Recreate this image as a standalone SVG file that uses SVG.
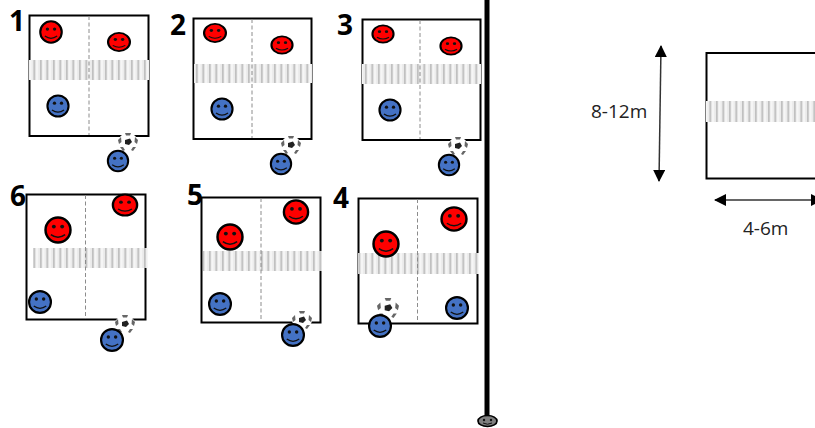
<svg xmlns="http://www.w3.org/2000/svg" width="815" height="428" viewBox="0 0 815 428">
<style>
.box{fill:#fff;stroke:#000;stroke-width:2}
.mid{stroke:#8c8c8c;stroke-width:1;stroke-dasharray:4 2.5;fill:none}
.net{fill:url(#stripes);filter:url(#soft)}
.num{font:bold 28px "Open Sans","Liberation Sans",sans-serif;fill:#000}
.lab{font:19px "Open Sans","Liberation Sans",sans-serif;fill:#222}
.dim{stroke:#333;stroke-width:1.5;fill:none;marker-start:url(#arr);marker-end:url(#arr)}
</style>
<defs>
<filter id="soft" x="-5%" y="-20%" width="110%" height="140%"><feGaussianBlur stdDeviation="0.7"/></filter>
<pattern id="stripes" width="6.5" height="20" patternUnits="userSpaceOnUse">
<rect width="6.5" height="20" fill="#ececec"/>
<rect x="1" width="1.6" height="20" fill="#bcbcbc"/>
<rect x="4" width="1.2" height="20" fill="#fcfcfc"/>
</pattern>
<marker id="arr" viewBox="0 0 12 12" refX="11" refY="6" markerUnits="userSpaceOnUse" markerWidth="12" markerHeight="12" orient="auto-start-reverse">
<path d="M0 0L12 6L0 12z" fill="#000"/>
</marker>
<g id="smile">
<circle cx="-3.200" cy="-2.600" r="1.500" fill="#111"/>
<circle cx="3.200" cy="-2.600" r="1.500" fill="#111"/>
<path d="M-5.500 3.600Q0 7.600 5.500 3.600" fill="none" stroke="#111" stroke-width="1.100"/>
</g>
<g id="red"><circle r="9.600" fill="#f00" stroke="#000" stroke-width="1.900"/><use href="#smile"/></g>
<g id="blue"><circle r="9.600" fill="#4472c4" stroke="#000" stroke-width="1.900"/><use href="#smile"/></g>
<g id="ball" filter="url(#soft)">
<ellipse rx="10" ry="9" fill="#fff"/>
<path d="M-3-2L2-3.500L4 0L1 3L-3 2z" fill="#222"/>
<g fill="#666"><path d="M-3-9L3-9L2-6.500L-2-6.500z"/><path d="M7-5L10-2L9 2L6.500 0z"/><path d="M5 5L8 5L5 9L3 8z"/><path d="M-5 5L-8 5L-5 9L-3 8z"/><path d="M-7-5L-10-2L-9 2L-6.500 0z"/></g>
</g>
</defs>
<rect width="815" height="428" fill="#fff"/>

<g id="drill-1">
<rect class="box" x="29.500" y="15.500" width="119" height="120.500"/>
<rect class="net" x="29" y="60" width="120" height="20"/>
<line class="mid" x1="89" y1="16" x2="89" y2="135"/>
<text class="num" x="9" y="31">1</text>
<use href="#red" transform="translate(51 32) scale(1.120)"/>
<use href="#red" transform="translate(119 42) scale(1.140 .95)"/>
<use href="#blue" transform="translate(58 106) scale(1.100)"/>
<use href="#ball" transform="translate(128 142)"/>
<use href="#blue" transform="translate(118 161) scale(1.060)"/>
</g>
<g id="drill-2">
<rect class="box" x="193.500" y="18.500" width="118" height="120.500"/>
<rect class="net" x="194" y="64" width="118" height="19"/>
<line class="mid" x1="252" y1="19" x2="252" y2="138"/>
<text class="num" x="170" y="35">2</text>
<use href="#red" transform="translate(215 33) scale(1.140 .95)"/>
<use href="#red" transform="translate(282 45) scale(1.100 .9)"/>
<use href="#blue" transform="translate(222 109) scale(1.100)"/>
<use href="#ball" transform="translate(291 145)"/>
<use href="#blue" transform="translate(281 164) scale(1.060)"/>
</g>
<g id="drill-3">
<rect class="box" x="362.500" y="19.500" width="118" height="120.500"/>
<rect class="net" x="362" y="64" width="119" height="20"/>
<line class="mid" x1="420" y1="20" x2="420" y2="139"/>
<text class="num" x="337" y="35">3</text>
<use href="#red" transform="translate(383 34) scale(1.100 .9)"/>
<use href="#red" transform="translate(451 46) scale(1.100 .9)"/>
<use href="#blue" transform="translate(390 110) scale(1.100)"/>
<use href="#ball" transform="translate(458 146)"/>
<use href="#blue" transform="translate(449 165) scale(1.060)"/>
</g>
<g id="drill-6">
<rect class="box" x="26.500" y="194.500" width="119" height="125"/>
<rect class="net" x="33" y="248" width="115" height="20"/>
<line class="mid" x1="85.500" y1="195" x2="85.500" y2="319"/>
<text class="num" x="10" y="206">6</text>
<use href="#red" transform="translate(125 205) scale(1.260 1.1)"/>
<use href="#red" transform="translate(58 230) scale(1.300)"/>
<use href="#blue" transform="translate(40 302) scale(1.140)"/>
<use href="#ball" transform="translate(125 324)"/>
<use href="#blue" transform="translate(112 340) scale(1.140)"/>
</g>
<g id="drill-5">
<rect class="box" x="201.500" y="197.500" width="119" height="125"/>
<rect class="net" x="203" y="251" width="119" height="20"/>
<line class="mid" x1="261" y1="198" x2="261" y2="322"/>
<text class="num" x="187" y="205">5</text>
<use href="#red" transform="translate(296 212) scale(1.260 1.2)"/>
<use href="#red" transform="translate(230 237) scale(1.300)"/>
<use href="#blue" transform="translate(220 304) scale(1.140)"/>
<use href="#ball" transform="translate(302 320)"/>
<use href="#blue" transform="translate(293 335) scale(1.140)"/>
</g>
<g id="drill-4">
<rect class="box" x="358.500" y="198.500" width="119" height="125"/>
<rect class="net" x="358" y="253" width="121" height="21"/>
<line class="mid" x1="417.500" y1="199" x2="417.500" y2="323"/>
<text class="num" x="333" y="208">4</text>
<use href="#red" transform="translate(454 219) scale(1.300 1.2)"/>
<use href="#red" transform="translate(386 244) scale(1.300)"/>
<use href="#blue" transform="translate(457 308) scale(1.140)"/>
<use href="#ball" transform="translate(388 308) scale(1.100)"/>
<use href="#blue" transform="translate(380 326) scale(1.140)"/>
</g>
<g id="divider">
<rect x="484.500" y="0" width="5" height="416" fill="#000"/>
<ellipse cx="487.500" cy="421" rx="9.500" ry="5.500" fill="#7f7f7f" stroke="#000" stroke-width="1.700"/>
<circle cx="484" cy="420" r="1.200" fill="#111"/><circle cx="491" cy="420" r="1.200" fill="#111"/>
<path d="M483 423Q487.500 425.500 492 423" fill="none" stroke="#111"/>
</g>
<g id="court">
<rect class="box" x="706.500" y="53" width="120" height="125.500"/>
<rect class="net" x="706" y="101" width="110" height="21"/>
</g>
<g id="connectors">
<line class="dim" x1="661" y1="46" x2="659" y2="181"/>
<line class="dim" x1="715" y1="200" x2="822" y2="200"/>
</g>
<g id="labels">
<text class="lab" x="591" y="118">8-12m</text>
<text class="lab" x="743" y="235">4-6m</text>
</g>
</svg>
